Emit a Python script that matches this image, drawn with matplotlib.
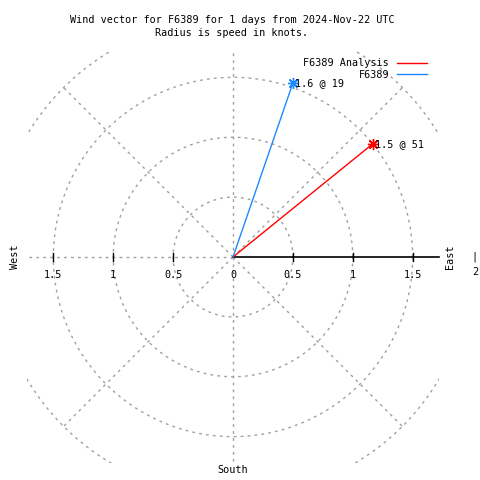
import numpy as np
import matplotlib
matplotlib.use("Agg")
import matplotlib.pyplot as plt

# wind vectors (speed in knots, direction in compass degrees)
series_names = ["F6389 Analysis", "F6389"]
series_colors = ["#ff0000", "#1e88ff"]
speeds = [1.5, 1.54]
directions = [51, 19]
point_labels = ["1.5 @ 51", "1.6 @ 19"]

rings = [0.5, 1.0, 1.5, 2.0]
spokes = [0, 45, 90, 135, 180, 225, 270, 315]
tick_vals = [0.5, 1.0, 1.5]
tick_text = ["0.5", "1", "1.5"]

lim = 1.72
grid_col = "#a0a0a0"
mono = "DejaVu Sans Mono"

fig = plt.figure(figsize=(4.8, 4.8), dpi=100)
ax = fig.add_axes([27 / 480, 17 / 480, 412 / 480, 412 / 480])
ax.set_xlim(-lim, lim)
ax.set_ylim(-lim, lim)
ax.set_aspect("equal")
ax.axis("off")

# grid rings and spokes
t = np.linspace(0, 2 * np.pi, 400)
for r in rings:
    ax.plot(r * np.cos(t), r * np.sin(t), color=grid_col, lw=1, ls=(0, (2, 3)))
for a in spokes:
    if a == 0:
        continue
    ang = np.deg2rad(a)
    ax.plot([0, 2 * np.cos(ang)], [0, 2 * np.sin(ang)], color=grid_col, lw=1, ls=(0, (2, 3)))

# east axis
ax.plot([0, lim], [0, 0], color="black", lw=1.2, clip_on=False)
for v in [-1.5, -1.0, -0.5, 0.5, 1.0, 1.5]:
    ax.plot([v, v], [-0.03, 0.03], color="black", lw=1)

# tick labels
for sgn in [-1, 1]:
    for v, s in zip(tick_vals, tick_text):
        ax.text(sgn * v, -0.11, s, ha="center", va="top", fontsize=7.3, family=mono)
ax.text(0, -0.11, "0", ha="center", va="top", fontsize=7.3, family=mono)

# vectors
for name, c, sp, d, lab in zip(series_names, series_colors, speeds, directions, point_labels):
    x = sp * np.sin(np.deg2rad(d))
    y = sp * np.cos(np.deg2rad(d))
    ax.plot([0, x], [0, y], color=c, lw=1, label=name)
    ax.plot([x], [y], marker=(8, 2, 0), color=c, ms=8, mew=1)
    ax.text(x + 0.02, y, lab, ha="left", va="center", fontsize=7.3, family=mono)

# legend (gnuplot style)
leg = ax.legend(loc="upper right", bbox_to_anchor=(0.987, 1.0), frameon=False,
                markerfirst=False, prop={"family": mono, "size": 7.3},
                handlelength=2.9, labelspacing=0.15, borderaxespad=0.3)
for txt in leg.get_texts():
    txt.set_ha("right")
leg._legend_box.align = "right"

# compass labels
fig.text(15 / 480, 1 - 257 / 480, "West", rotation=90, ha="center", va="center", fontsize=7.3, family=mono)
fig.text(450 / 480, 1 - 257 / 480, "East", rotation=90, ha="center", va="center", fontsize=7.3, family=mono)
fig.text(474 / 480, 1 - 257 / 480, "|", ha="center", va="center", fontsize=7.3, family=mono)
fig.text(475 / 480, 1 - 272 / 480, "2", ha="center", va="center", fontsize=7.3, family=mono)
fig.text(233 / 480, 1 - 470 / 480, "South", ha="center", va="center", fontsize=7.3, family=mono)

fig.text(232 / 480, 1 - 20 / 480, "Wind vector for F6389 for 1 days from 2024-Nov-22 UTC",
         ha="center", va="center", fontsize=7.3, family=mono)
fig.text(232 / 480, 1 - 33 / 480, "Radius is speed in knots.",
         ha="center", va="center", fontsize=7.3, family=mono)

fig.savefig("out.png", dpi=100)
